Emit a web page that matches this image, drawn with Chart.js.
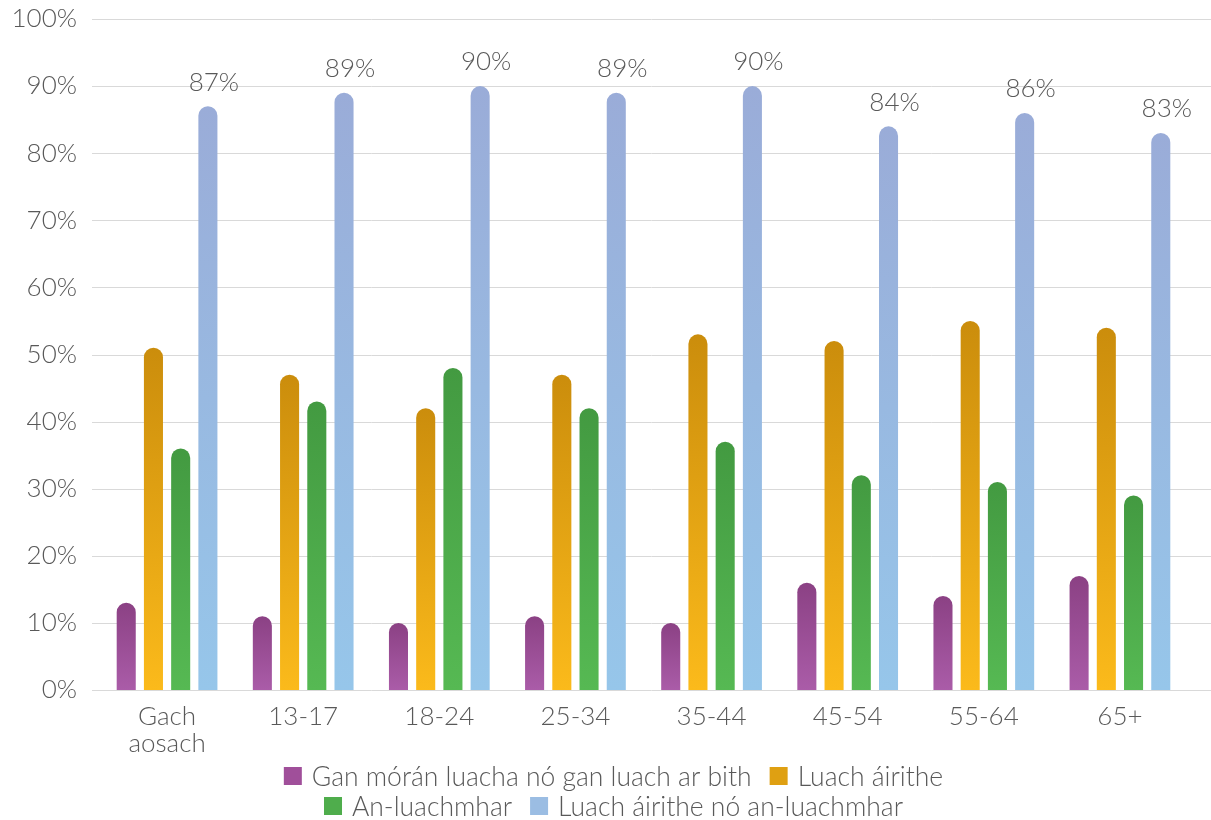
<!DOCTYPE html>
<html>
<head>
<meta charset="utf-8">
<script src="https://cdn.jsdelivr.net/npm/chart.js@4"></script>
<style>
  html, body { margin: 0; padding: 0; background: #fff; }
  #wrap { width: 1211px; height: 820px; }
</style>
</head>
<body>
<div id="wrap"><canvas id="chart" width="1211" height="820"></canvas></div>
<script>
// Catagóirí aoise
const categories = [['Gach', 'aosach'], '13-17', '18-24', '25-34', '35-44', '45-54', '55-64', '65+'];

// Luachanna (%) - léite ón bhfíor
const ganLuach = [13, 11, 10, 11, 10, 16, 14, 17];
const luachAirithe = [51, 47, 42, 47, 53, 52, 55, 54];
const anLuachmhar = [36, 43, 48, 42, 37, 32, 31, 29];
const airitheNoAn = [87, 89, 90, 89, 90, 84, 86, 83];

const seriesNames = [
    'Gan mórán luacha nó gan luach ar bith',
    'Luach áirithe',
    'An-luachmhar',
    'Luach áirithe nó an-luachmhar'
];

const yTicks = [0, 10, 20, 30, 40, 50, 60, 70, 80, 90, 100];

const textColor = '#595959';
const gridColor = '#d9d9d9';
const fontFamily = 'Lato, "Open Sans", sans-serif';
const fontSize = 26;
const legendColors = ['#a04f9a', '#dfa012', '#4fad4c', '#9bbde3'];
const legendRows = [[0, 1], [2, 3]];

// Grádán do gach barra (dorcha thuas, éadrom thíos)
function barGradient(top, bottom) {
    return (c) => {
        if (c.type !== 'data') return bottom;
        const y = c.chart.scales.y;
        if (!y || y.top === undefined) return bottom;
        const yTop = y.getPixelForValue(c.raw);
        const yBase = y.getPixelForValue(0);
        if (!isFinite(yTop) || !isFinite(yBase) || yTop === yBase) return bottom;
        const g = c.chart.ctx.createLinearGradient(0, yTop, 0, yBase);
        g.addColorStop(0, top);
        g.addColorStop(1, bottom);
        return g;
    };
}

// Línte eangaí níos leithne ná an limistéar
const wideGrid = {
    id: 'wideGrid',
    beforeDatasetsDraw(chart) {
        const y = chart.scales.y;
        const ctx = chart.ctx;
        ctx.save();
        ctx.strokeStyle = gridColor;
        ctx.lineWidth = 1;
        y.ticks.forEach(t => {
            const py = Math.round(y.getPixelForValue(t.value)) + 0.5;
            ctx.beginPath();
            ctx.moveTo(chart.chartArea.left - 7, py);
            ctx.lineTo(chart.width, py);
            ctx.stroke();
        });
        ctx.restore();
    }
};

// Lipéid luacha os cionn an cheathrú sraith
const valueLabels = {
    id: 'valueLabels',
    afterDatasetsDraw(chart) {
        const meta = chart.getDatasetMeta(3);
        const ctx = chart.ctx;
        ctx.save();
        ctx.font = '300 ' + fontSize + 'px ' + fontFamily;
        ctx.fillStyle = textColor;
        ctx.textAlign = 'center';
        ctx.textBaseline = 'bottom';
        meta.data.forEach((bar, i) => {
            ctx.fillText(airitheNoAn[i] + '%', bar.x + 6, bar.y - 11);
        });
        ctx.restore();
    }
};

// Finscéal ar dhá líne
const twoRowLegend = {
    id: 'twoRowLegend',
    afterDraw(chart) {
        const ctx = chart.ctx;
        const box = 18, gapText = 10, gapItem = 18;
        const rowY = [chart.height - 44, chart.height - 14];
        ctx.save();
        ctx.font = '300 26.5px ' + fontFamily;
        ctx.textBaseline = 'middle';
        ctx.textAlign = 'left';
        legendRows.forEach((row, r) => {
            const widths = row.map(i => box + gapText + ctx.measureText(seriesNames[i]).width);
            const total = widths.reduce((a, b) => a + b, 0) + gapItem * (row.length - 1);
            let x = (chart.width - total) / 2 + 8;
            row.forEach((i, k) => {
                ctx.fillStyle = legendColors[i];
                ctx.fillRect(x, rowY[r] - box / 2, box, box);
                ctx.fillStyle = textColor;
                ctx.fillText(seriesNames[i], x + box + gapText, rowY[r] + 1);
                x += widths[k] + gapItem;
            });
        });
        ctx.restore();
    }
};

const ctxChart = document.getElementById('chart').getContext('2d');
new Chart(ctxChart, {
    type: 'bar',
    data: {
        labels: categories,
        datasets: [
            { label: seriesNames[0], data: ganLuach, backgroundColor: barGradient('#8b4184', '#aa5ca8') },
            { label: seriesNames[1], data: luachAirithe, backgroundColor: barGradient('#cb8d0c', '#fbba1b') },
            { label: seriesNames[2], data: anLuachmhar, backgroundColor: barGradient('#439a41', '#56b953') },
            { label: seriesNames[3], data: airitheNoAn, backgroundColor: barGradient('#9aacd8', '#96c6ea') }
        ]
    },
    options: {
        responsive: false,
        animation: false,
        datasets: {
            bar: {
                categoryPercentage: 0.8,
                barPercentage: 0.7,
                borderRadius: 10,
                borderSkipped: 'bottom',
                borderWidth: 0
            }
        },
        layout: {
            padding: { left: 12, right: 23, top: 19, bottom: 63 }
        },
        scales: {
            y: {
                min: 0,
                max: 100,
                afterBuildTicks: (axis) => { axis.ticks = yTicks.map(v => ({ value: v })); },
                afterFit: (axis) => {
                    axis.width = 87;
                    axis.paddingTop = 0;
                    axis.paddingBottom = 0;
                },
                ticks: {
                    color: textColor,
                    font: { family: fontFamily, size: fontSize, weight: 300 },
                    padding: 22,
                    callback: (v) => v + '%'
                },
                grid: { display: false, drawTicks: false },
                border: { display: false }
            },
            x: {
                afterFit: (axis) => { axis.height = 67; },
                ticks: {
                    color: textColor,
                    font: { family: fontFamily, size: fontSize, weight: 300, lineHeight: 1.04 },
                    padding: 13,
                    maxRotation: 0
                },
                grid: { display: false, drawTicks: false },
                border: { display: false }
            }
        },
        plugins: {
            legend: { display: false },
            tooltip: { enabled: false }
        }
    },
    plugins: [wideGrid, valueLabels, twoRowLegend]
});
</script>
</body>
</html>
